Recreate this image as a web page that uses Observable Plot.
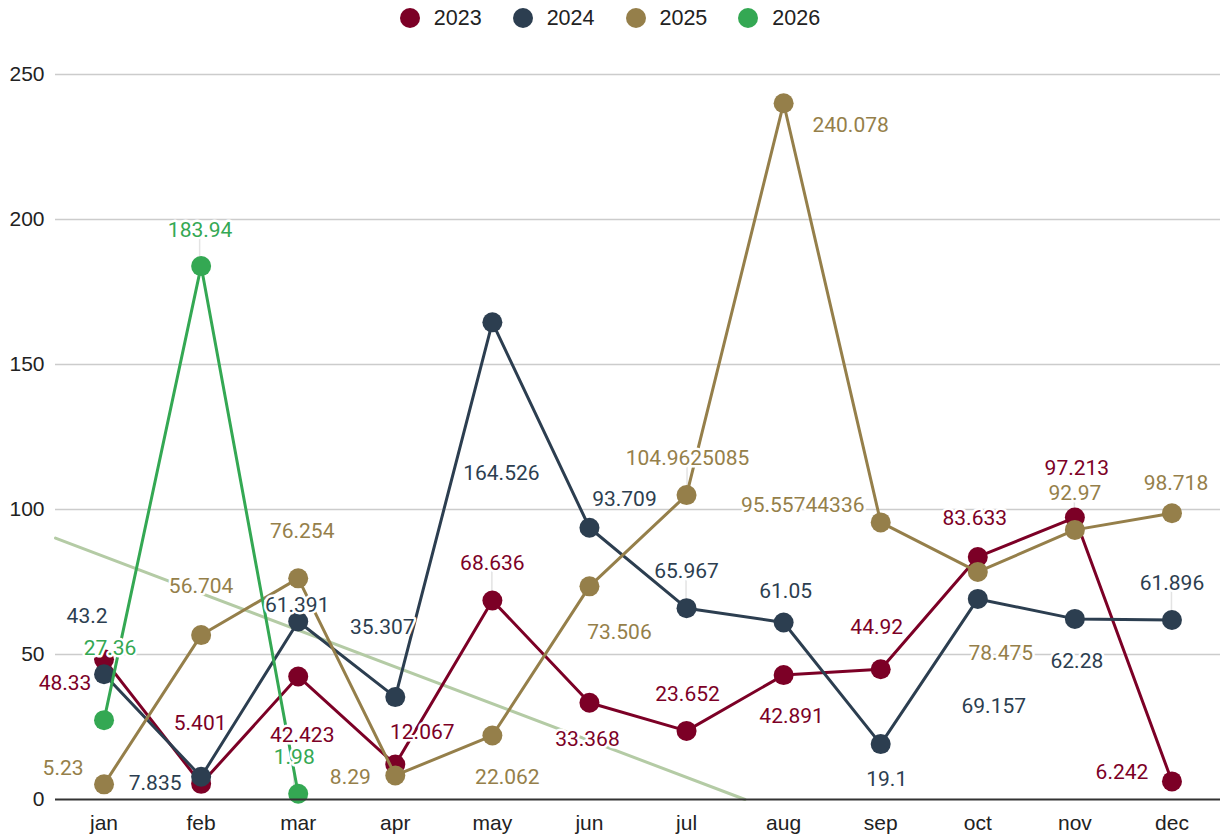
<!DOCTYPE html>
<html>
<head>
<meta charset="utf-8">
<script src="https://cdn.jsdelivr.net/npm/d3@7"></script>
<script src="https://cdn.jsdelivr.net/npm/@observablehq/plot@0.6"></script>
<style>
  html, body { margin: 0; padding: 0; background: #fff; }
  #legend { height: 36px; display: flex; justify-content: center; align-items: center;
    font-family: "Liberation Sans", Arial, sans-serif; font-size: 21.5px; color: #222; }
  .item { display: flex; align-items: center; margin: 0 15.5px; }
  .dot { width: 20px; height: 20px; border-radius: 50%; margin-right: 14px; }
  #chart svg { display: block; }
</style>
</head>
<body>
<div id="legend"></div>
<div id="chart"></div>
<script>
const months = ["jan","feb","mar","apr","may","jun","jul","aug","sep","oct","nov","dec"];
const seriesNames = ["2023","2024","2025","2026"];
const colors = ["#7c0026","#2c3e50","#957f4a","#34a853"];
const trendColor = "#b4cba5";

const v2023 = [48.33, 5.401, 42.423, 12.067, 68.636, 33.368, 23.652, 42.891, 44.92, 83.633, 97.213, 6.242];
const v2024 = [43.2, 7.835, 61.391, 35.307, 164.526, 93.709, 65.967, 61.05, 19.1, 69.157, 62.28, 61.896];
const v2025 = [5.23, 56.704, 76.254, 8.29, 22.062, 73.506, 104.9625085, 240.078, 95.55744336, 78.475, 92.97, 98.718];
const v2026 = [27.36, 183.94, 1.98];
const yTicks = [0, 50, 100, 150, 200, 250];

// label placement (pixel offsets from each point), layout only
const labelOffsets = {
  "2023": [[-39,24],[-1,-61],[4,59],[27,-32],[0,-37],[-2,37],[1,-37],[8,41],[-4,-42],[-3,-39],[2,-49],[-50,-9]],
  "2024": [[-17,-58],[-46,6],[-1,-16],[-13,-70],[9,151],[35,-28],[0,-37],[2,-31],[6,35],[16,107],[2,42],[0,-37]],
  "2025": [[-41,-16],[0,-49],[4,-47],[-45,2],[15,42],[30,46],[1,-37],[67,22],[-78,-17],[23,81],[0,-37],[4,-30]],
  "2026": [[6,-72],[-1,-36],[-4,-36]]
};
const leaders = [["2023",4],["2024",6],["2024",11],["2025",6],["2025",10],["2026",1],["2026",2]];

const values = {"2023": v2023, "2024": v2024, "2025": v2025, "2026": v2026};
const rows = seriesNames.flatMap(s => values[s].map((v, i) => ({series: s, i, v, label: String(v)})));
const colorOf = s => colors[seriesNames.indexOf(s)];

// linear trend of the 2026 series
const mx = d3.mean(v2026, (_, i) => i), my = d3.mean(v2026);
const slope = d3.sum(v2026, (v, i) => (i - mx) * (v - my)) / d3.sum(v2026, (_, i) => (i - mx) ** 2);
const icpt = my - slope * mx;
const x0 = -0.5, x1 = -icpt / slope;
const trend = [{i: x0, v: icpt + slope * x0}, {i: x1, v: 0}];

// legend
const legend = document.getElementById("legend");
seriesNames.forEach((s, k) => {
  const it = document.createElement("div"); it.className = "item";
  const d = document.createElement("span"); d.className = "dot"; d.style.background = colors[k];
  const t = document.createElement("span"); t.textContent = s;
  it.append(d, t); legend.append(it);
});

const leaderMark = (index, scales) => {
  const sx = typeof scales.x === "function" ? scales.x : scales.x.apply;
  const sy = typeof scales.y === "function" ? scales.y : scales.y.apply;
  const g = d3.create("svg:g");
  for (const [s, i] of leaders) {
    const v = values[s][i];
    const [dx, dy] = labelOffsets[s][i];
    const px = sx(i), py = sy(v);
    g.append("line").attr("x1", px + dx).attr("x2", px + dx)
      .attr("y1", py + dy + 8).attr("y2", py)
      .attr("stroke", "#e3e3e3").attr("stroke-width", 1.5);
  }
  return g.node();
};

const marks = [
  Plot.gridY(yTicks.filter(t => t > 0), {stroke: "#cccccc", strokeOpacity: 1, strokeWidth: 1.5}),
  Plot.line(trend, {x: "i", y: "v", stroke: trendColor, strokeWidth: 3}),
  leaderMark
];
for (const s of seriesNames) {
  const data = rows.filter(d => d.series === s);
  marks.push(Plot.line(data, {x: "i", y: "v", stroke: colorOf(s), strokeWidth: 3}));
  marks.push(Plot.dot(data, {x: "i", y: "v", r: 10, fill: colorOf(s), stroke: "none"}));
}
marks.push(Plot.ruleY([0], {stroke: "#333", strokeWidth: 2}));
for (const d of rows) {
  const [dx, dy] = labelOffsets[d.series][d.i];
  marks.push(Plot.text([d], {x: "i", y: "v", text: "label", dx, dy,
    fill: colorOf(d.series), stroke: "white", strokeWidth: 5, paintOrder: "stroke",
    fontSize: 21, fontFamily: "Roboto"}));
}
marks.push(Plot.axisY({ticks: yTicks, tickSize: 0, tickPadding: 11, fontSize: 21,
  fontFamily: "Liberation Sans, Arial, sans-serif", label: null}));
marks.push(Plot.axisX({ticks: d3.range(12), tickFormat: i => months[i], tickSize: 0, tickPadding: 16,
  fontSize: 21, fontFamily: "Liberation Sans, Arial, sans-serif", label: null}));

const chart = Plot.plot({
  width: 1220, height: 803,
  marginTop: 38, marginBottom: 40, marginLeft: 55, marginRight: 0,
  style: {color: "#222", background: "white", overflow: "visible"},
  x: {domain: [-0.5, 11.5]},
  y: {domain: [0, 250]},
  marks
});
document.getElementById("chart").append(chart);
</script>
</body>
</html>
